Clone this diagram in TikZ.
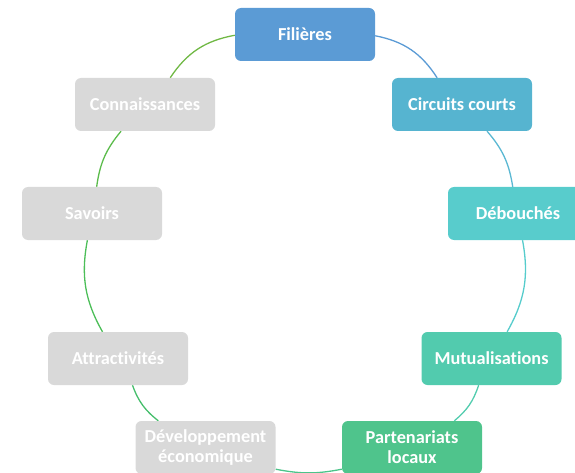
\documentclass[tikz,border=0pt]{standalone}
\usepackage{fontspec}
\setmainfont{Carlito}[Ligatures={NoCommon}]
\usetikzlibrary{backgrounds}
\definecolor{cFil}{HTML}{5B9BD5}
\definecolor{cCir}{HTML}{56B4D0}
\definecolor{cDeb}{HTML}{58CCCC}
\definecolor{cMut}{HTML}{52CBAE}
\definecolor{cPar}{HTML}{4FC48C}
\definecolor{cGrey}{HTML}{D9D9D9}
\definecolor{lA}{HTML}{5B9BD5}
\definecolor{lB}{HTML}{5BB8D3}
\definecolor{lC}{HTML}{56CCCC}
\definecolor{lD}{HTML}{52CCAE}
\definecolor{lE}{HTML}{4CC48A}
\definecolor{lF}{HTML}{46BE6C}
\definecolor{lG}{HTML}{4CBE58}
\definecolor{lH}{HTML}{5CBC4C}
\definecolor{lI}{HTML}{70B844}
\tikzset{
  box/.style={rectangle, rounded corners=6pt, minimum width=140pt, minimum height=53pt,
    inner sep=2pt, align=center, text=white,
    font=\fontsize{18.3}{20}\selectfont\bfseries},
  conn/.style={line width=1.3pt},
}
\begin{document}
\begin{tikzpicture}[x=1pt,y=-1pt]
\useasboundingbox (0,0) rectangle (575,473);
\clip (0,0) rectangle (575,473);
\node[box, fill=cFil]  (fil) at (305,34.5)  {Filières};
\node[box, fill=cCir]  (cir) at (462,104.5) {Circuits courts};
\node[box, fill=cDeb]  (deb) at (518,213.5) {Débouchés};
\node[box, fill=cMut]  (mut) at (491.5,358.5) {Mutualisations};
\node[box, fill=cPar]  (par) at (412,447.5) {Partenariats\\locaux};
\node[box, fill=cGrey] (dev) at (205.5,447.5) {Développement\\économique};
\node[box, fill=cGrey] (att) at (118,358.5) {Attractivités};
\node[box, fill=cGrey] (sav) at (92,213.5) {Savoirs};
\node[box, fill=cGrey] (con) at (145,104.5) {Connaissances};
\begin{scope}[on background layer]
\draw[conn, lA] (fil) to[bend left=23] (cir);
\draw[conn, lB] (cir) to[bend left=16] (deb);
\draw[conn, lC] (deb) to[bend left=20] (mut);
\draw[conn, lD] (mut) to[bend left=16] (par);
\draw[conn, lE] ([yshift=5pt]par.south west) to[bend left=11] ([yshift=5pt]dev.south east);
\draw[conn, lF] (dev) to[bend left=16] (att);
\draw[conn, lG] (att) to[bend left=20] (sav);
\draw[conn, lH] (sav) to[bend left=16] (con);
\draw[conn, lI] (con) to[bend left=23] (fil);
\end{scope}
\end{tikzpicture}
\end{document}
